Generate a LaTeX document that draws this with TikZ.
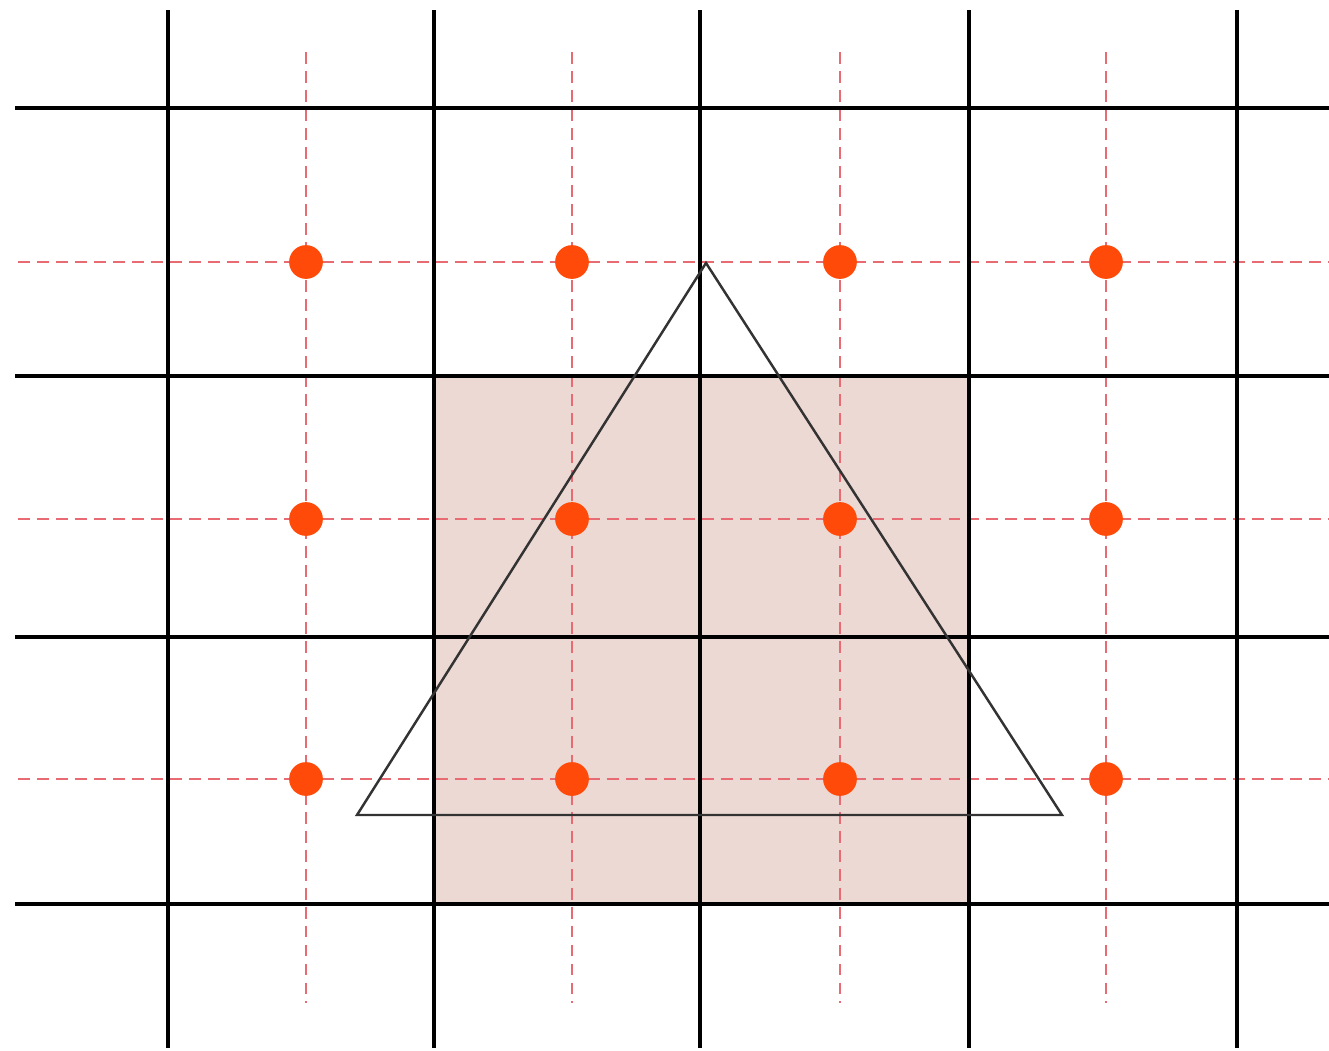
\documentclass[tikz,border=0pt]{standalone}
\definecolor{covered}{HTML}{EDD9D4}
\definecolor{guide}{HTML}{E86A72}
\definecolor{sampleorange}{HTML}{FF4A0A}
\begin{document}
\begin{tikzpicture}[x=0.01cm, y=-0.01cm,
  pixline/.style={black, line width=0.9pt},
  centreline/.style={guide, line width=0.55pt, dash pattern=on 3.4pt off 2pt},
  edge/.style={black!80, line width=0.7pt, line join=miter},
  sample/.style={fill=sampleorange}]
  \useasboundingbox (0,0) rectangle (1329,1051);
  % covered pixels
  \fill[covered] (434,376) rectangle (969,904);
  % pixel centres
  \foreach \y in {262,519,779} \draw[centreline] (18,\y) -- (1329,\y);
  \foreach \x in {306,572,840,1106} \draw[centreline] (\x,52) -- (\x,1003);
  % pixel grid
  \foreach \x in {168,434,700,969,1237} \draw[pixline] (\x,10) -- (\x,1048);
  \foreach \y in {108,376,637,904} \draw[pixline] (15,\y) -- (1329,\y);
  % triangle
  \coordinate (apex) at (706,263);
  \coordinate (left) at (357,815);
  \coordinate (right) at (1062,815);
  \draw[edge] (apex) -- (left) -- (right) -- cycle;
  % samples
  \foreach \x in {306,572,840,1106}
    \foreach \y in {262,519,779}
      \fill[sample] (\x,\y) circle (4.8pt);
\end{tikzpicture}
\end{document}
